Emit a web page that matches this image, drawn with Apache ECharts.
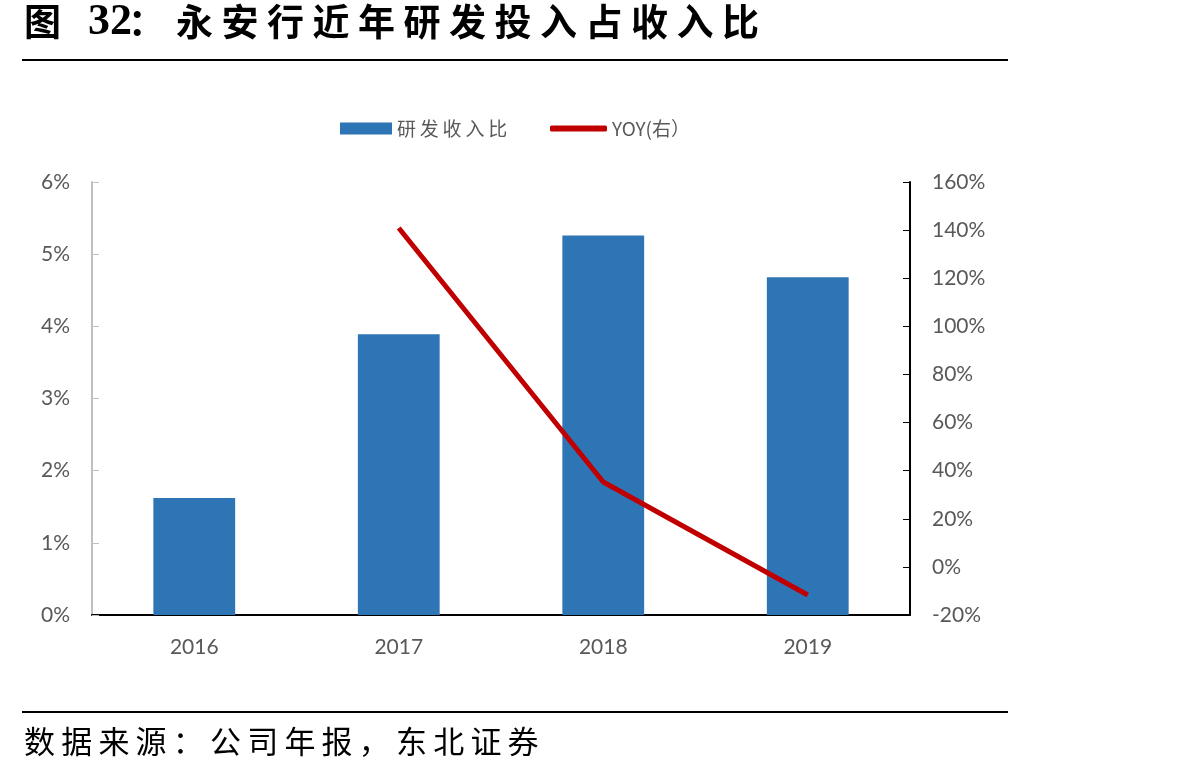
<!DOCTYPE html>
<html>
<head>
<meta charset="utf-8">
<script src="https://cdn.jsdelivr.net/npm/echarts@6/dist/echarts.min.js"></script>
<style>
  html, body { margin: 0; padding: 0; background: #fff; }
  #chart { width: 1198px; height: 779px; }
</style>
</head>
<body>
<div id="chart"></div>
<script>
// data
const years = ["2016", "2017", "2018", "2019"];
const rdRatio = [1.62, 3.89, 5.26, 4.68];      // 研发收入比, %
const yoy = [null, 140.9, 35.3, -11.7];         // YOY(右), %
const leftTicks = [0, 1, 2, 3, 4, 5, 6];
const rightTicks = [-20, 0, 20, 40, 60, 80, 100, 120, 140, 160];

const titleBody = "永安行近年研发投入占收入比";
const sourceText = "数据来源：公司年报，东北证券";

const labelColor = "#595959";
const cjk = "'Noto Sans CJK SC', sans-serif";
const latin = "Lato, 'Open Sans', sans-serif";

// spread text one glyph at a time to mimic the wider spacing of the original
function spaced(text, x0, y, pitch, font) {
  return text.split("").map((ch, i) => ({
    type: "text",
    x: x0 + i * pitch,
    y: y,
    style: { text: ch, font: font, fill: "#000" },
  }));
}

const chart = echarts.init(document.getElementById("chart"));

chart.setOption({
  animation: false,
  graphic: [
    { type: "text", x: 24, y: 3, style: { text: "图", font: "bold 37px " + cjk, fill: "#000" } },
    { type: "text", x: 88, y: 1, style: { text: "32", font: "bold 44px 'Liberation Serif', serif", fill: "#000" } },
    { type: "text", x: 128, y: 3, style: { text: "：", font: "bold 37px " + cjk, fill: "#000" } },
    ...spaced(titleBody, 176, 3, 45.5, "bold 37px " + cjk),
    {
      type: "line",
      shape: { x1: 22, y1: 60, x2: 1008, y2: 60 },
      style: { stroke: "#000", lineWidth: 2 },
    },
    {
      type: "line",
      shape: { x1: 22, y1: 712, x2: 1008, y2: 712 },
      style: { stroke: "#000", lineWidth: 2 },
    },
    ...spaced(sourceText, 24, 726, 37.2, "31px " + cjk),
  ],
  legend: [
    {
      top: 114,
      left: 335,
      itemWidth: 52,
      itemHeight: 12,
      formatter: (name) => name.split("").join("\u2009"),
      textStyle: { fontSize: 19, color: labelColor, fontFamily: cjk },
      data: [{ name: "研发收入比", icon: "rect" }],
    },
    {
      top: 114,
      left: 545,
      itemWidth: 57,
      itemHeight: 6,
      textStyle: { fontSize: 19, color: labelColor, fontFamily: cjk },
      data: [{ name: "YOY(右）", icon: "roundRect", itemStyle: { color: "#c00000" } }],
    },
  ],
  grid: { left: 92, right: 288, top: 182, bottom: 164 },
  xAxis: {
    type: "category",
    data: years,
    axisLine: { lineStyle: { color: "#000", width: 2 } },
    axisTick: { inside: true, length: 7, lineStyle: { color: "#000" } },
    axisLabel: { fontSize: 21, color: labelColor, margin: 22, fontFamily: latin },
  },
  yAxis: [
    {
      type: "value",
      min: leftTicks[0],
      max: leftTicks[leftTicks.length - 1],
      interval: 1,
      splitLine: { show: false },
      axisLine: { show: true, lineStyle: { color: "#bfbfbf", width: 2 } },
      axisTick: { show: true, inside: true, length: 7, lineStyle: { color: "#bfbfbf" } },
      axisLabel: { fontSize: 21, color: labelColor, margin: 22, formatter: "{value}%", fontFamily: latin },
    },
    {
      type: "value",
      min: rightTicks[0],
      max: rightTicks[rightTicks.length - 1],
      interval: 20,
      splitLine: { show: false },
      axisLine: { show: true, lineStyle: { color: "#000", width: 2 } },
      axisTick: { show: true, inside: true, length: 7, lineStyle: { color: "#000" } },
      axisLabel: { fontSize: 21, color: labelColor, margin: 22, formatter: "{value}%", fontFamily: latin },
    },
  ],
  series: [
    {
      name: "研发收入比",
      type: "bar",
      data: rdRatio,
      barWidth: "40%",
      itemStyle: { color: "#2e75b6" },
    },
    {
      name: "YOY(右）",
      type: "line",
      yAxisIndex: 1,
      data: yoy,
      symbol: "none",
      lineStyle: { color: "#c00000", width: 5 },
      itemStyle: { color: "#c00000" },
    },
  ],
});
</script>
</body>
</html>
